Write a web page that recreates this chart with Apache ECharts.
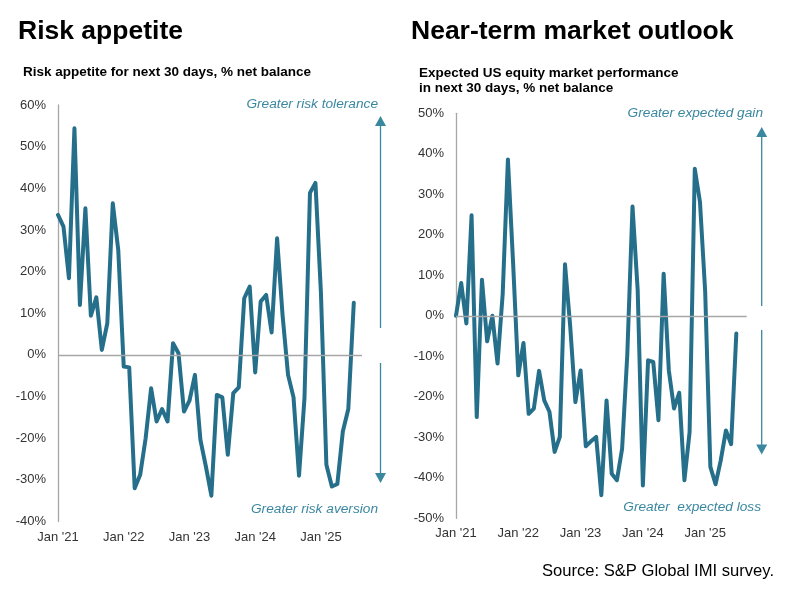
<!DOCTYPE html>
<html lang="en">
<head>
<meta charset="UTF-8">
<title>Risk appetite / Near-term market outlook</title>
<script src="https://cdn.jsdelivr.net/npm/echarts@6/dist/echarts.min.js"></script>
<style>
    * { margin: 0; padding: 0; }
    body { background: #fff; }
    #chart { width: 803px; height: 598px; }
</style>
</head>
<body>
<div id="chart"></div>
<script>
    // monthly values, Jan '21 .. Jul '25, % net balance
    const riskAppetite = [
        33.6, 30.8, 18.4, 54.4, 12, 35.2, 9.4, 13.8, 1.2, 7.6, 36.4, 25.2,
        -2.8, -3, -32, -28.8, -20, -8, -16, -13, -16, 2.8, 0.4, -13.6,
        -11, -4.8, -20.4, -26.8, -33.8, -9.6, -10.2, -24, -9.2, -7.8, 13.6, 16.4,
        -4.2, 12.8, 14.4, 5.4, 28, 9.5, -4.8, -10.2, -29, -10.4, 38.9, 41.3,
        15, -26.4, -31.6, -31, -18.4, -13, 12.5
    ];
    const equityOutlook = [
        0, 8.1, -1.9, 24.8, -25, 8.9, -6.3, 0, -11.8, 5.5, 38.6, 13,
        -14.7, -6.7, -24.2, -22.9, -13.6, -20.9, -23.7, -33.6, -29.9, 12.7, -2.6, -21.3,
        -13.5, -32.2, -31, -29.9, -44.3, -20.9, -39, -40.6, -32.8, -9.5, 27, 6.3,
        -41.9, -11, -11.4, -25.8, 10.4, -13.5, -22.9, -19, -40.6, -28.7, 36.3, 28.1,
        6, -37.3, -41.6, -35.7, -28.3, -31.7, -4.4
    ];
    const xTickLabels = ["Jan '21", "Jan '22", "Jan '23", "Jan '24", "Jan '25"];
    const leftYRange = [-40, 60];
    const rightYRange = [-50, 50];

    const FONT = "'Liberation Sans', Arial, sans-serif";
    const LINE = '#256f8b';
    const NOTE = '#3a87a0';
    const GREY = '#a6a6a6';

    const chart = echarts.init(document.getElementById('chart'), null, { renderer: 'canvas' });

    function xAxisFor(gridIndex, max) {
        return {
            type: 'value', gridIndex: gridIndex, min: 0, max: max, interval: 12,
            axisLine: { show: false }, axisTick: { show: false }, splitLine: { show: false },
            axisLabel: {
                color: '#333', fontFamily: FONT, fontSize: 13, margin: 9,
                formatter: v => (v % 12 === 0 && xTickLabels[v / 12]) ? xTickLabels[v / 12] : ''
            }
        };
    }
    function yAxisFor(gridIndex, range) {
        return {
            type: 'value', gridIndex: gridIndex, min: range[0], max: range[1], interval: 10,
            axisLine: { show: true, lineStyle: { color: GREY, width: 1.3 } },
            axisTick: { show: false }, splitLine: { show: false },
            axisLabel: { color: '#333', fontFamily: FONT, fontSize: 13, margin: 12, formatter: '{value}%' }
        };
    }
    function zeroLine(idx) {
        return {
            type: 'line', xAxisIndex: idx, yAxisIndex: idx, data: [], z: 1,
            markLine: {
                silent: true, symbol: ['none', 'none'], label: { show: false }, animation: false,
                lineStyle: { color: GREY, width: 1.3, type: 'solid' },
                data: [{ yAxis: 0 }]
            }
        };
    }
    function dataLine(idx, values) {
        return {
            type: 'line', xAxisIndex: idx, yAxisIndex: idx, z: 3,
            data: values.map((v, i) => [i, v]),
            showSymbol: false, symbol: 'none', animation: false,
            lineStyle: { color: LINE, width: 4, join: 'round', cap: 'round' }
        };
    }
    function text(str, x, y, opts) {
        return {
            type: 'text', silent: true,
            style: Object.assign({
                text: str, x: x, y: y, fill: '#000',
                font: '13px ' + FONT, textAlign: 'left', textVerticalAlign: 'middle'
            }, opts || {})
        };
    }
    function vline(x, y1, y2) {
        return { type: 'line', silent: true, shape: { x1: x, y1: y1, x2: x, y2: y2 },
                 style: { stroke: NOTE, lineWidth: 1.3 } };
    }
    function head(x, tip, base) {
        return { type: 'polygon', silent: true,
                 shape: { points: [[x, tip], [x - 5.5, base], [x + 5.5, base]] },
                 style: { fill: NOTE } };
    }

    const option = {
        animation: false,
        grid: [
            { left: 58, top: 105, width: 304, height: 416.5 },
            { left: 456, top: 113.3, width: 290.7, height: 405 }
        ],
        xAxis: [xAxisFor(0, 55.5), xAxisFor(1, 56)],
        yAxis: [yAxisFor(0, leftYRange), yAxisFor(1, rightYRange)],
        series: [zeroLine(0), zeroLine(1), dataLine(0, riskAppetite), dataLine(1, equityOutlook)],
        graphic: [
            text('Risk appetite', 18, 32, { font: 'bold 26.5px ' + FONT }),
            text('Near-term market outlook', 411, 32, { font: 'bold 26.5px ' + FONT }),
            text('Risk appetite for next 30 days, % net balance', 23, 72, { font: 'bold 13.5px ' + FONT }),
            text('Expected US equity market performance', 419, 73.5, { font: 'bold 13.5px ' + FONT }),
            text('in next 30 days, % net balance', 419, 88.5, { font: 'bold 13.5px ' + FONT }),

            text('Greater risk tolerance', 378, 104, { font: 'italic 13.7px ' + FONT, fill: NOTE, textAlign: 'right' }),
            text('Greater risk aversion', 378, 509.5, { font: 'italic 13.7px ' + FONT, fill: NOTE, textAlign: 'right' }),
            vline(380.5, 124, 328), head(380.5, 116, 126),
            vline(380.5, 363, 475), head(380.5, 483, 473),

            text('Greater expected gain', 763, 113.5, { font: 'italic 13.7px ' + FONT, fill: NOTE, textAlign: 'right' }),
            text('Greater  expected loss', 761, 507.5, { font: 'italic 13.7px ' + FONT, fill: NOTE, textAlign: 'right' }),
            vline(761.7, 135, 306), head(761.7, 127, 137),
            vline(761.7, 330, 447), head(761.7, 454.5, 444.5),

            text('Source: S&P Global IMI survey.', 774, 571, { font: '16.6px ' + FONT, textAlign: 'right' })
        ]
    };
    chart.setOption(option);
</script>
</body>
</html>
